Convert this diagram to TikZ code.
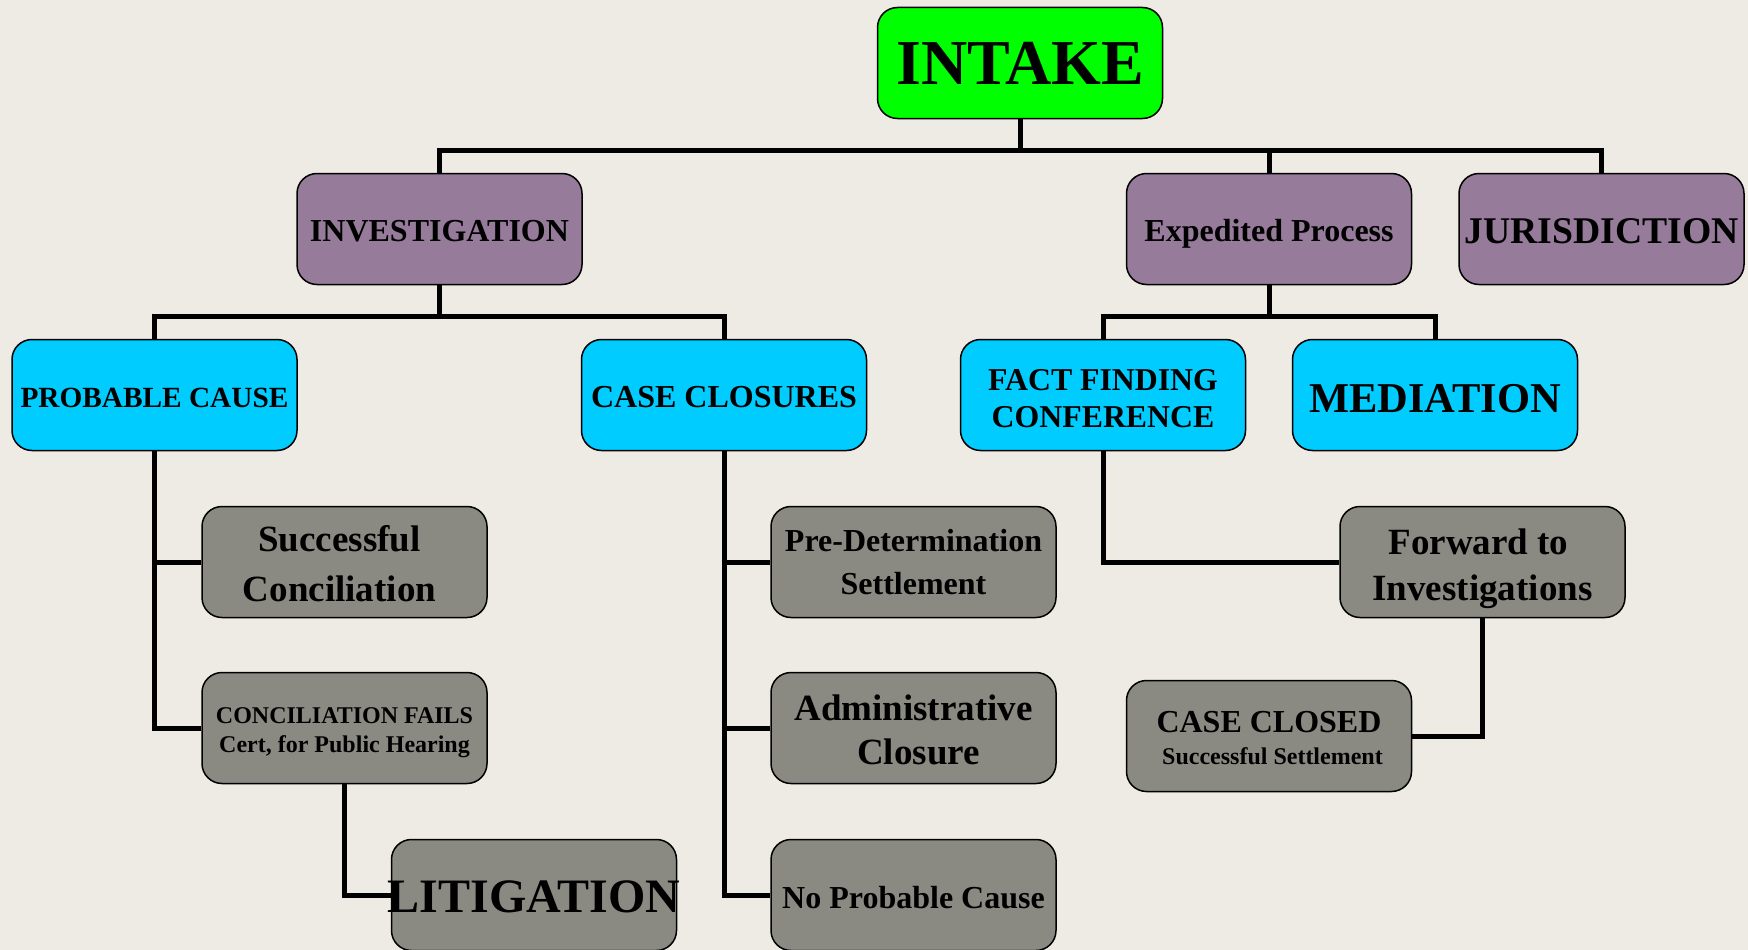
\documentclass[tikz,border=0pt]{standalone}
\usepackage{fontspec}
\setmainfont{Liberation Serif}
\definecolor{bgc}{HTML}{EEEBE4}
\definecolor{greenc}{HTML}{00FF00}
\definecolor{purplec}{HTML}{967B9A}
\definecolor{cyanc}{HTML}{00CCFF}
\definecolor{greyc}{HTML}{8A8A83}
\tikzset{
  box/.style={draw=black, line width=1.5pt, rounded corners=20pt, minimum width=285pt,
    minimum height=111pt, align=center, inner sep=0pt},
  gbox/.style={box, fill=greenc},
  pbox/.style={box, fill=purplec},
  cbox/.style={box, fill=cyanc},
  ybox/.style={box, fill=greyc},
  conn/.style={draw=black, line width=5pt},
}
\newcommand{\fs}[2]{\fontsize{#1}{#2}\selectfont\bfseries}
\newcommand{\dn}[2]{\raisebox{-#1}[\height][\depth]{#2}}
\begin{document}
\begin{tikzpicture}[x=1pt,y=-1pt]
\fill[bgc] (0,0) rectangle (1748,950);
\useasboundingbox (0,0) rectangle (1748,950);

\coordinate (b1) at (0,150);
\coordinate (b2) at (0,316);

% row 1
\node[gbox, font=\fs{64}{70}] (intake) at (1020,63) {INTAKE};
% row 2
\node[pbox, font=\fs{32}{36}] (inv) at (439.5,229) {\dn{2.5pt}{INVESTIGATION}};
\node[pbox, font=\fs{32}{36}] (exp) at (1269,229) {\dn{4.5pt}{Expedited Process}};
\node[pbox, font=\fs{37.7}{42}] (jur) at (1601.5,229) {\dn{2.5pt}{JURISDICTION}};
% row 3
\node[cbox, font=\fs{29.3}{34}] (pc) at (154.5,395) {\dn{2.5pt}{PROBABLE CAUSE}};
\node[cbox, font=\fs{32}{36}] (cc) at (724,395) {\dn{2.5pt}{CASE CLOSURES}};
\node[cbox, font=\fs{31.8}{37}] (ff) at (1103,395) {\dn{3.5pt}{FACT FINDING}\\\dn{3.5pt}{CONFERENCE}};
\node[cbox, font=\fs{42.5}{48}] (med) at (1435,395) {\dn{3.5pt}{MEDIATION}};
% row 4
\node[ybox, font=\fs{37}{50}] (sc) at (344.5,562) {\dn{1.5pt}{Successful}\hspace*{10pt}\\\dn{1.5pt}{Conciliation}\hspace*{10pt}};
\node[ybox, font=\fs{32}{43}] (pd) at (913.5,562) {\dn{0.5pt}{Pre-Determination}\\\dn{0.5pt}{Settlement}};
\node[ybox, font=\fs{37}{46}] (fw) at (1482.5,562) {\dn{6.5pt}{Forward to}\hspace*{8pt}\\\dn{6.5pt}{Investigations}};
% row 5
\node[ybox, font=\fs{24}{29}] (cf) at (344.5,728) {\dn{4.5pt}{CONCILIATION FAILS}\\\dn{4.5pt}{Cert, for Public Hearing}};
\node[ybox, font=\fs{37}{43.5}] (ac) at (913.5,728) {\dn{2pt}{Administrative}\\\hspace*{10pt}\dn{2pt}{Closure}};
\node[ybox, font=\fs{32}{36}] (ccl) at (1269,736) {\dn{2pt}{CASE CLOSED}\\[-4pt]\hspace*{7pt}\dn{2pt}{\fs{24}{28}Successful Settlement}};
% row 6
\node[ybox, font=\fs{48}{52}] (lit) at (534,895) {\dn{2pt}{\makebox[0pt][c]{LITIGATION}}};
\node[ybox, font=\fs{32}{36}] (np) at (913.5,895) {\dn{2.5pt}{No Probable Cause}};

% connectors
\draw[conn] (intake.south) -- (intake.south |- b1);
\draw[conn] (inv.north) -- (inv.north |- b1) -- (jur.north |- b1) -- (jur.north);
\draw[conn] (exp.north) -- (exp.north |- b1);

\draw[conn] (inv.south) -- (inv.south |- b2);
\draw[conn] (pc.north) -- (pc.north |- b2) -- (cc.north |- b2) -- (cc.north);

\draw[conn] (exp.south) -- (exp.south |- b2);
\draw[conn] (ff.north) -- (ff.north |- b2) -- (med.north |- b2) -- (med.north);

\draw[conn] (pc.south) |- (sc.west);
\draw[conn] (pc.south) |- (cf.west);
\draw[conn] (cf.south) |- (lit.west);

\draw[conn] (cc.south) |- (pd.west);
\draw[conn] (cc.south) |- (ac.west);
\draw[conn] (cc.south) |- (np.west);

\draw[conn] (ff.south) |- (fw.west);
\draw[conn] (fw.south) |- (ccl.east);
\end{tikzpicture}
\end{document}
